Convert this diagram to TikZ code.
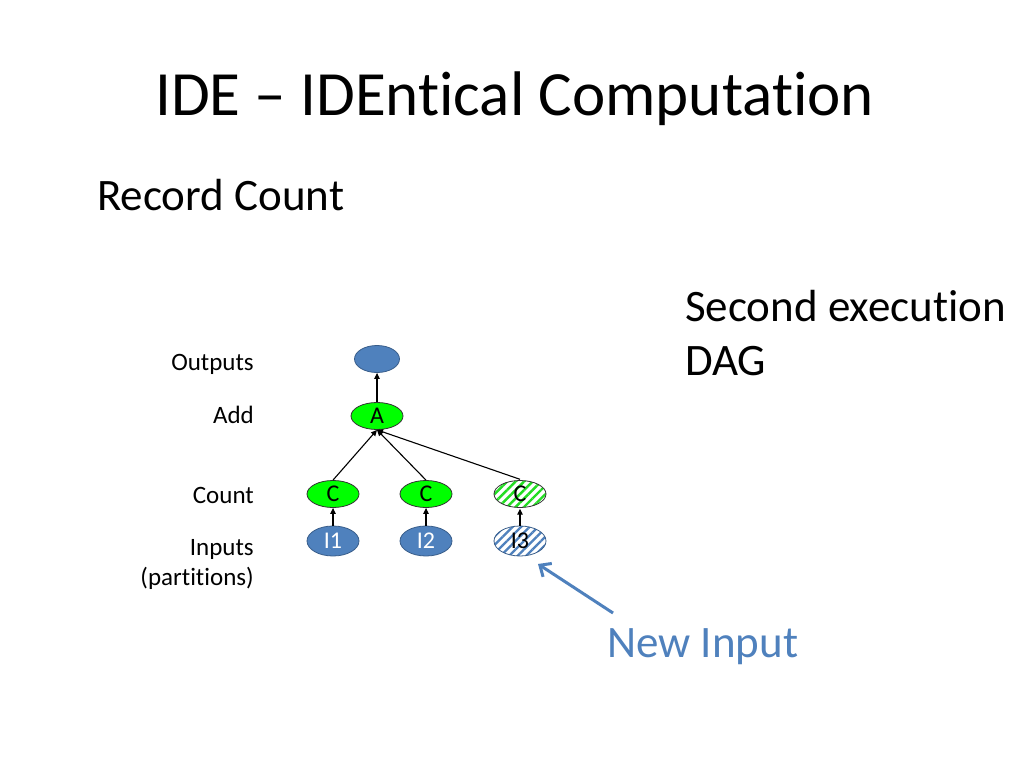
\documentclass[tikz,border=0pt]{standalone}
\usepackage{fontspec}
\setmainfont{Carlito}[RawFeature={-liga;-dlig}]
\usetikzlibrary{shapes.geometric,arrows.meta,patterns.meta}
\definecolor{accblue}{HTML}{4F81BD}
\definecolor{darkblue}{HTML}{385D8A}
\definecolor{brightgreen}{HTML}{00FF00}
\definecolor{stripegreen}{HTML}{22DD22}
\tikzset{
  every node/.style={font=\fontsize{24}{29}\selectfont},
  vert/.style={ellipse, inner sep=0pt, minimum width=52pt, minimum height=27pt, line width=0.8pt},
  bluenode/.style={vert, fill=accblue, draw=darkblue, text=white},
  greennode/.style={vert, fill=brightgreen, draw=black!80, text=black},
  gstripe/.style={vert, draw=black!80, text=black, preaction={fill=white},
     pattern={Lines[angle=45,distance=6pt,line width=2.4pt]}, pattern color=stripegreen},
  bstripe/.style={vert, draw=darkblue, text=black, preaction={fill=white},
     pattern={Lines[angle=45,distance=6pt,line width=2.4pt]}, pattern color=accblue},
  edge/.style={line width=1.1pt, -{Triangle[length=6pt,width=5.5pt]}},
  lbl/.style={anchor=base east, align=right, font=\fontsize{25}{30}\selectfont},
  big/.style={font=\fontsize{45}{54}\selectfont, anchor=base west, align=left},
}
\begin{document}
\begin{tikzpicture}[x=1pt,y=-1pt]
\useasboundingbox[fill=white] (0,0) rectangle (1024,768);
% titles
\node[anchor=base west, font=\fontsize{63}{76}\selectfont, inner sep=0pt] (title) at (155,115) {IDE – IDEntical Computation};
\node[big, inner sep=0pt] (rc) at (97,210) {Record Count};
\node[big, inner sep=0pt] (sec) at (685,321) {Second execution};
\node[big, inner sep=0pt] (dag) at (685,375) {DAG};
\node[big, inner sep=0pt, text=accblue] (newin) at (607,657) {New Input};
% row labels
\node[lbl, inner sep=0pt] (lout) at (254,370) {Outputs};
\node[lbl, inner sep=0pt] (ladd) at (254,423) {Add};
\node[lbl, inner sep=0pt] (lcnt) at (254,503) {Count};
\node[lbl, inner sep=0pt] (linp) at (254,555) {Inputs};
\node[lbl, inner sep=0pt] (lpart) at (254,585) {(partitions)};
% DAG
\node[bluenode, minimum width=45pt] (out) at (377,359) {};
\node[greennode] (a) at (377,416) {A};
\node[greennode] (c1) at (333,494) {C};
\node[greennode] (c2) at (426,494) {C};
\node[gstripe] (c3) at (520,494) {C};
\node[bluenode, minimum height=30pt] (i1) at (333,541) {I1};
\node[bluenode, minimum height=30pt] (i2) at (426,541) {I2};
\node[bstripe, minimum height=30pt] (i3) at (520,541) {I3};
\draw[edge] (a.north) -- (out.south);
\draw[edge] (c1.north) -- (a.south);
\draw[edge] (c2.north) -- (a.south);
\draw[edge] (c3.north) -- (a.south);
\draw[edge] (i1.north) -- (c1.south);
\draw[edge] (i2.north) -- (c2.south);
\draw[edge] (i3.north) -- (c3.south);
% new input pointer
\coordinate (ptail) at (613,613);
\coordinate (ptip) at (538,564);
\draw[accblue, line width=3pt, -{Straight Barb[length=9pt,width=16pt]}] (ptail) -- (ptip);
\end{tikzpicture}
\end{document}
